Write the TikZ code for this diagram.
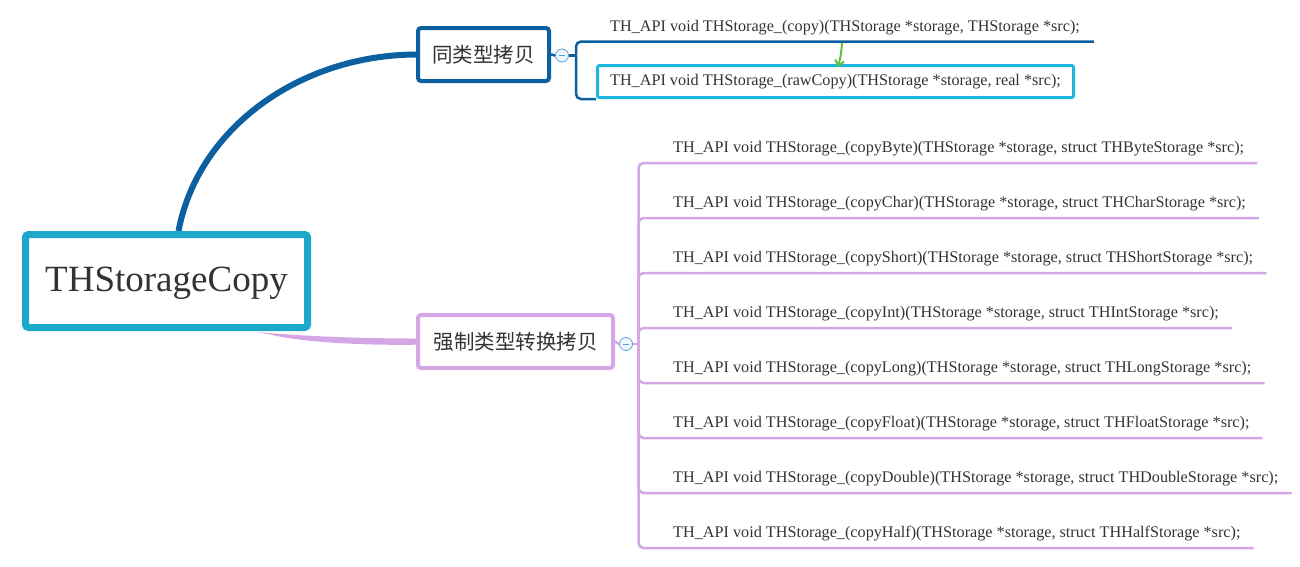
\documentclass[tikz,border=0pt]{standalone}
\usepackage{fontspec}
\setmainfont{Liberation Serif}
\newfontfamily\cjk{Noto Sans CJK SC}
\usetikzlibrary{arrows.meta,backgrounds}
\definecolor{rootblue}{RGB}{28,168,203}
\definecolor{darkblue}{RGB}{12,96,160}
\definecolor{lilac}{RGB}{213,166,230}
\definecolor{cyanbox}{RGB}{30,182,222}
\definecolor{greenarr}{RGB}{100,190,70}
\definecolor{txt}{RGB}{51,51,51}
\definecolor{ringblue}{RGB}{90,160,215}
\definecolor{ringfill}{RGB}{240,248,255}
\tikzset{
  rootbox/.style={draw=rootblue, line width=7pt, fill=white, rounded corners=3pt,
    minimum width=282pt, minimum height=93pt, inner sep=0pt, text depth=3pt,
    font=\fontsize{37}{40}\selectfont, text=txt},
  sameBox/.style={draw=darkblue, line width=4pt, fill=white, rounded corners=3pt,
    minimum width=131pt, minimum height=53pt, inner sep=0pt,
    font=\cjk\fontsize{20.5}{24}\selectfont, text=txt},
  castBox/.style={draw=lilac, line width=4pt, fill=white, rounded corners=3pt,
    minimum width=195pt, minimum height=53pt, inner sep=0pt,
    font=\cjk\fontsize{20.5}{24}\selectfont, text=txt},
  leaf/.style={inner sep=0pt, anchor=base west, font=\fontsize{16.2}{19}\selectfont, text=txt},
  rawBox/.style={draw=cyanbox, line width=3pt, fill=white, rounded corners=2pt,
    minimum width=476pt, minimum height=32pt, inner sep=0pt,
    font=\fontsize{16.2}{19}\selectfont, text=txt},
  collapse/.style={circle, draw=ringblue, line width=0.8pt, fill=ringfill, minimum size=13pt, inner sep=0pt,
    path picture={\draw[ringblue, line width=0.8pt]
      ([xshift=3.5pt]path picture bounding box.west) -- ([xshift=-3.5pt]path picture bounding box.east);}},
  blueline/.style={draw=darkblue, line width=2.5pt, rounded corners=5pt},
  lilacline/.style={draw=lilac, line width=2.5pt, rounded corners=5pt},
  relarrow/.style={draw=greenarr, line width=2pt, -{Straight Barb[length=5pt,width=9pt,line width=2pt]}},
}
\begin{document}
\begin{tikzpicture}[x=1pt,y=-1pt]
\useasboundingbox (0,0) rectangle (1300,566);
% main nodes
\node[rootbox] (root) at (166.5,281) {THStorageCopy};
\node[sameBox] (same) at (483.5,54.5) {同类型拷贝};
\node[castBox] (cast) at (515.5,341.5) {强制类型转换拷贝};
\begin{scope}[on background layer]
  \draw[darkblue, line width=6pt] ([xshift=12pt]root.north) .. controls (198,128) and (300,55) .. (same.west);
  \fill[lilac] ([xshift=90pt,yshift=-1pt]root.south) .. controls (300,336) and (360,338.5) .. ([yshift=3pt]cast.west)
     -- ([yshift=-3.2pt]cast.west) .. controls (360,345.5) and (300,342) .. ([xshift=104pt,yshift=-3.5pt]root.south) -- cycle;
\end{scope}
% same-type branch
\node[collapse] (c1) at (562,55.5) {};
\coordinate (b1) at (576,55.5);
\draw[blueline] (same.east) -- (c1.west);
\draw[blueline] (c1.east) -- (b1);
\node[leaf] (copy) at (610,31) {TH\_API void THStorage\_(copy)(THStorage *storage, THStorage *src);};
\node[rawBox] (raw) at (835.5,81.5) {TH\_API void THStorage\_(rawCopy)(THStorage *storage, real *src);};
\path ([xshift=14pt,yshift=-10.5pt]copy.base east) coordinate (cr);
\draw[blueline] (b1) |- (cr);
\begin{scope}[on background layer]
\draw[blueline] (b1) |- (raw.south west);
\end{scope}
\path (842,43) coordinate (gstart);
\draw[relarrow] (gstart) .. controls (841,55) .. ([xshift=2.5pt,yshift=-3pt]raw.north);
% cast branch
\node[collapse] (c2) at (626,344) {};
\coordinate (b2) at (638.5,344);
\draw[lilacline] (cast.east) -- (c2.west);
\draw[lilacline] (c2.east) -- (b2);
\foreach \nm/\tp [count=\i from 0] in {b/Byte,c/Char,s/Short,i/Int,l/Long,f/Float,d/Double,h/Half}{
  \node[leaf] (\nm) at (673,{152+55*\i}) {TH\_API void THStorage\_(copy\tp)(THStorage *storage, struct TH\tp Storage *src);};
  \path ([xshift=13pt,yshift=-11pt]\nm.base east) coordinate (ur);
  \draw[lilacline] (b2) |- (ur);
}
\end{tikzpicture}
\end{document}
